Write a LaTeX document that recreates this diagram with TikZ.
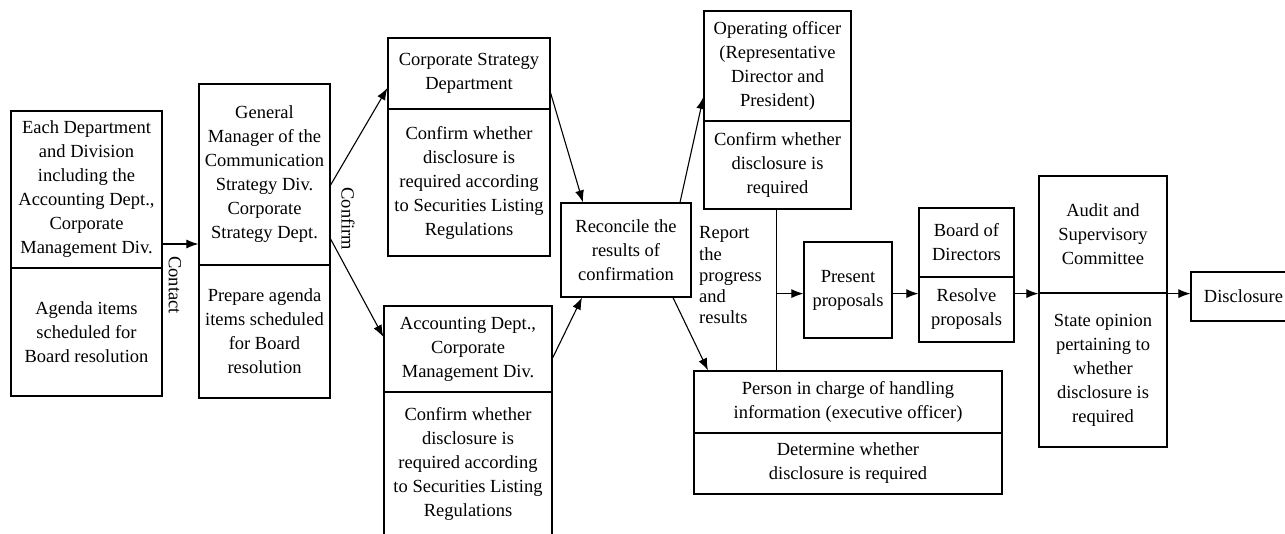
\documentclass[tikz,border=0pt]{standalone}
\usepackage{fontspec}
\setmainfont{Liberation Serif}
\newfontfamily\tnr{Liberation Serif}
\usetikzlibrary{arrows.meta,calc}
\begin{document}
\begin{tikzpicture}[x=1pt,y=-1pt,
  box/.style={draw,line width=1.2pt,rectangle,inner sep=0pt,align=center,
    font=\tnr\fontsize{18.5}{24}\selectfont},
  arr/.style={line width=1.1pt,-{Latex[length=12pt,width=9pt]}},
  lbl/.style={font=\tnr\fontsize{18.5}{24}\selectfont,inner sep=0pt}]
\useasboundingbox (0,0) rectangle (1285,533);
% box 1
\node[box,minimum width=151pt,minimum height=157pt] (b1t) at (86.5,189.5)
  {Each Department\\and Division\\including the\\Accounting Dept.,\\Corporate\\Management Div.};
\node[box,minimum width=151pt,minimum height=128pt] (b1b) at (86.5,332)
  {Agenda items\\scheduled for\\Board resolution};
% box 2
\node[box,minimum width=131pt,minimum height=181pt] (b2t) at (264.5,174.5)
  {General\\Manager of the\\Communication\\Strategy Div.\\Corporate\\Strategy Dept.};
\node[box,minimum width=131pt,minimum height=133pt] (b2b) at (264.5,331.5)
  {Prepare agenda\\items scheduled\\for Board\\resolution};
% corporate strategy dept
\node[box,minimum width=162pt,minimum height=71pt] (csdt) at (469,73.5)
  {Corporate Strategy\\Department};
\node[box,minimum width=162pt,minimum height=147pt] (csdb) at (469,182.5)
  {Confirm whether\\disclosure is\\required according\\to Securities Listing\\Regulations};
% accounting dept
\node[box,minimum width=168pt,minimum height=86pt] (acct) at (468,349)
  {Accounting Dept.,\\Corporate\\Management Div.};
\node[box,minimum width=168pt,minimum height=143pt] (accb) at (468,463.5)
  {Confirm whether\\disclosure is\\required according\\to Securities Listing\\Regulations};
% reconcile
\node[box,minimum width=130pt,minimum height=94pt] (rec) at (626,250)
  {Reconcile the\\results of\\confirmation};
% operating officer
\node[box,minimum width=147pt,minimum height=110pt] (opt) at (777.5,66)
  {Operating officer\\(Representative\\Director and\\President)};
\node[box,minimum width=147pt,minimum height=88pt] (opb) at (777.5,165)
  {Confirm whether\\disclosure is\\required};
% present
\node[box,minimum width=88pt,minimum height=96pt] (pres) at (848,290)
  {Present\\proposals};
% board
\node[box,minimum width=95pt,minimum height=69pt] (bdt) at (966.5,242.5)
  {Board of\\Directors};
\node[box,minimum width=95pt,minimum height=65pt] (bdb) at (966.5,309.5)
  {Resolve\\proposals};
% audit
\node[box,minimum width=128pt,minimum height=117pt] (audt) at (1103,234.5)
  {Audit and\\Supervisory\\Committee};
\node[box,minimum width=128pt,minimum height=154pt] (audb) at (1103,370)
  {State opinion\\pertaining to\\whether\\disclosure is\\required};
% disclosure
\node[box,minimum width=105pt,minimum height=49pt] (disc) at (1243.5,296.5)
  {Disclosure};
% person in charge
\node[box,minimum width=308pt,minimum height=62pt] (pert) at (848,402)
  {Person in charge of handling\\information (executive officer)};
\node[box,minimum width=308pt,minimum height=61pt] (perb) at (848,463.5)
  {Determine whether\\disclosure is required};
% labels
\node[lbl,rotate=-90] (lcontact) at (175,285) {Contact};
\node[lbl,rotate=-90] (lconfirm) at (348,219) {Confirm};
\node[lbl,anchor=west,align=left,font=\tnr\fontsize{18.5}{21.25}\selectfont] (lreport) at (699,275.5)
  {Report\\the\\progress\\and\\results};
% connectors
\draw[arr] ([yshift=-54.5pt]b1t.east) -- ([yshift=-54.5pt]b1t.east -| b2t.west);
\draw[arr] ([yshift=-10.5pt]b2t.east) -- ([yshift=-14.5pt]csdt.west);
\draw[arr] ([yshift=-64.5pt]b2t.east) -- ([yshift=12pt]acct.west);
\draw[arr] ([yshift=-19.5pt]csdt.east) -- ([xshift=-43pt]rec.north);
\draw[arr] ([yshift=-9pt]acct.east) -- ([xshift=-44pt]rec.south);
\draw[arr] ([xshift=54pt]rec.north) -- ([yshift=-31pt]opt.west);
\draw[arr] ([xshift=47pt]rec.south) -- ([xshift=-140pt]pert.north);
\draw[line width=1.1pt] ([xshift=-1pt]opb.south) -- ([xshift=-1pt]opb.south |- pert.north);
\coordinate (j) at ([xshift=-1pt]opb.south |- audt.south);
\draw[arr] (j) -- (pres.west |- j);
\draw[arr] (pres.east |- j) -- (bdb.west |- j);
\draw[arr] (bdb.east |- j) -- (audt.south west);
\draw[arr] (audt.south east) -- (disc.west |- j);
\end{tikzpicture}
\end{document}
